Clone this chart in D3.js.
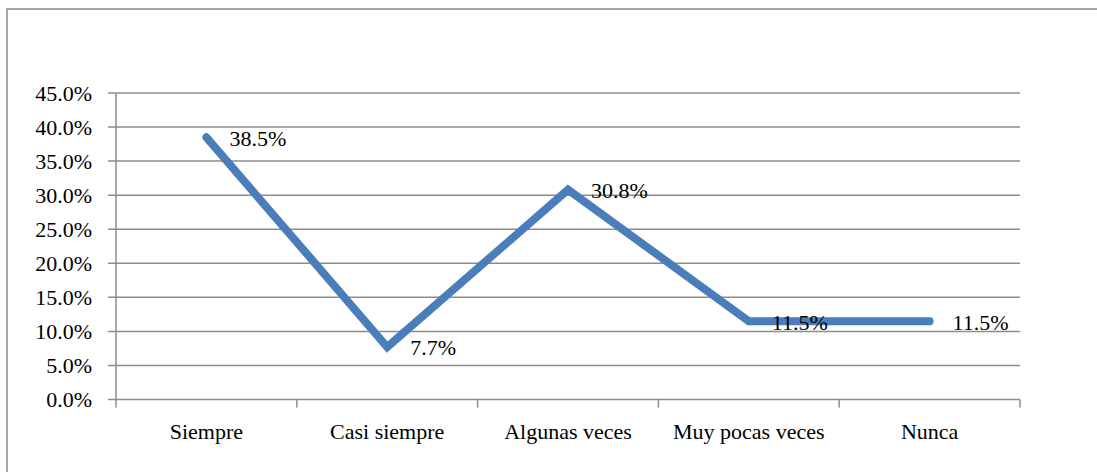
<!DOCTYPE html>
<html>
<head>
<meta charset="utf-8">
<script src="https://cdn.jsdelivr.net/npm/d3@7"></script>
</head>
<body style="margin:0">
<svg id="chart" width="1097" height="472"></svg>
<script>
const categories = ["Siempre", "Casi siempre", "Algunas veces", "Muy pocas veces", "Nunca"];
const values = [38.5, 7.7, 30.8, 11.5, 11.5];
const valueLabels = ["38.5%", "7.7%", "30.8%", "11.5%", "11.5%"];
const yTicks = [0, 5, 10, 15, 20, 25, 30, 35, 40, 45];
const fontNames = ["Times New Roman", "Liberation Serif"];

(function () {
  const svg = d3.select("#chart");
  const W = 1097, H = 472;
  const plotLeft = 116, plotRight = 1020, plotTop = 93, plotBottom = 399.5;
  const family = fontNames.map(f => `"${f}"`).join(", ");

  const serifText = sel => sel
    .style("font-family", family, "important")
    .style("font-size", "22px", "important")
    .style("fill", "#000");

  // Outer frame (runs off the right and bottom edges)
  svg.append("rect")
    .attr("x", 7).attr("y", 9)
    .attr("width", W).attr("height", H)
    .attr("fill", "none").attr("stroke", "#8a8a8a").attr("stroke-width", 1.5);

  const x = d3.scaleBand().domain(categories).range([plotLeft, plotRight]);
  const y = d3.scaleLinear().domain([0, 45]).range([plotBottom, plotTop]);

  // Horizontal gridlines with tick stubs
  svg.append("g").selectAll("line").data(yTicks).join("line")
    .attr("x1", plotLeft - 8).attr("x2", plotRight)
    .attr("y1", d => y(d)).attr("y2", d => y(d))
    .attr("stroke", "#8c8c8c").attr("stroke-width", 1.5);

  // Y axis labels
  svg.append("g").selectAll("text").data(yTicks).join("text")
    .call(serifText)
    .attr("x", 92).attr("y", d => y(d))
    .attr("dy", "0.35em")
    .attr("text-anchor", "end")
    .text(d => d.toFixed(1) + "%");

  // Vertical axis line
  svg.append("line")
    .attr("x1", plotLeft).attr("x2", plotLeft)
    .attr("y1", plotTop).attr("y2", plotBottom + 8)
    .attr("stroke", "#8c8c8c").attr("stroke-width", 1.5);

  // X category boundary ticks
  const bounds = categories.map(c => x(c)).concat([plotRight]);
  svg.append("g").selectAll("line").data(bounds.slice(1)).join("line")
    .attr("x1", d => d).attr("x2", d => d)
    .attr("y1", plotBottom).attr("y2", plotBottom + 8)
    .attr("stroke", "#8c8c8c").attr("stroke-width", 1.5);

  // X labels
  svg.append("g").selectAll("text").data(categories).join("text")
    .call(serifText)
    .attr("x", d => x(d) + x.bandwidth() / 2)
    .attr("y", 439)
    .attr("text-anchor", "middle")
    .text(d => d);

  // Series line
  const line = d3.line()
    .x((d, i) => x(categories[i]) + x.bandwidth() / 2)
    .y(d => y(d));
  svg.append("path")
    .datum(values)
    .attr("d", line)
    .attr("fill", "none")
    .attr("stroke", "#4a7ebb")
    .attr("stroke-width", 8)
    .attr("stroke-linejoin", "miter")
    .attr("stroke-linecap", "round");

  // Value labels
  svg.append("g").selectAll("text").data(values).join("text")
    .call(serifText)
    .attr("x", (d, i) => x(categories[i]) + x.bandwidth() / 2 + 23)
    .attr("y", d => y(d))
    .attr("dy", "0.38em")
    .text((d, i) => valueLabels[i]);
})();
</script>
</body>
</html>
